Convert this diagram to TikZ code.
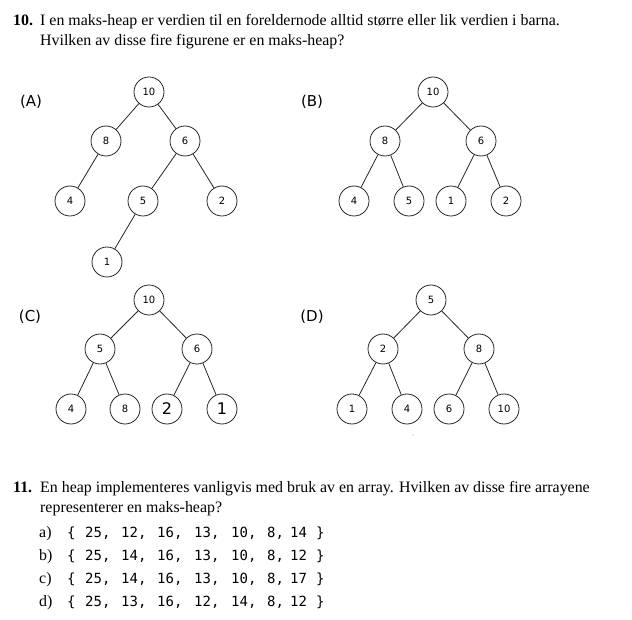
\documentclass[tikz,border=0pt]{standalone}
\usepackage{fontspec}
\setmainfont{Liberation Serif}
\newfontfamily\nodefont{DejaVu Sans}
\newfontfamily\monofont{DejaVu Sans Mono}
\begin{document}
\begin{tikzpicture}[x=1pt,y=-1pt,
  hn/.style={circle,draw=black!85,line width=0.8pt,minimum size=30pt,inner sep=0pt,font=\nodefont\fontsize{10}{10}\selectfont},
  hnbig/.style={hn,font=\nodefont\fontsize{16}{16}\selectfont},
  edge/.style={draw=black!85,line width=0.8pt},
  lbl/.style={font=\nodefont\fontsize{15}{15}\selectfont,inner sep=0pt},
  txt/.style={anchor=base west,inner sep=0pt,font=\fontsize{15.9}{18}\selectfont},
  mono/.style={anchor=base west,inner sep=0pt,font=\monofont\fontsize{14}{14}\selectfont}]
\fill[white] (0,0) rectangle (632,620);
\useasboundingbox (0,0) rectangle (632,620);

% Question 10
\node[txt] (q10n) at (13,26) {\textbf{10.}};
\node[txt] (q10a) at (40,26) {I en maks-heap er verdien til en foreldernode alltid større eller lik verdien i barna.};
\node[txt] (q10b) at (40,46) {Hvilken av disse fire figurene er en maks-heap?};

% labels
\node[lbl] (LA) at (31,102) {(A)};
\node[lbl] (LB) at (312,102) {(B)};
\node[lbl] (LC) at (30,317) {(C)};
\node[lbl] (LD) at (312,317) {(D)};

% Tree A
\node[hn] (A10) at (149,92) {10};
\node[hn] (A8) at (106,141) {8};
\node[hn] (A6) at (185,141) {6};
\node[hn] (A4) at (70,201) {4};
\node[hn] (A5) at (143,201) {5};
\node[hn] (A2) at (222,201) {2};
\node[hn] (A1) at (107,262) {1};
\draw[edge] (A10) -- (A8);
\draw[edge] (A10) -- (A6);
\draw[edge] (A8) -- (A4);
\draw[edge] (A6) -- (A5);
\draw[edge] (A6) -- (A2);
\draw[edge] (A5) -- (A1);

% Tree B
\node[hn] (B10) at (433,92) {10};
\node[hn] (B8) at (385,141) {8};
\node[hn] (B6) at (481,141) {6};
\node[hn] (B4) at (354,201) {4};
\node[hn] (B5) at (409,201) {5};
\node[hn] (B1) at (451,201) {1};
\node[hn] (B2) at (506,201) {2};
\draw[edge] (B10) -- (B8);
\draw[edge] (B10) -- (B6);
\draw[edge] (B8) -- (B4);
\draw[edge] (B8) -- (B5);
\draw[edge] (B6) -- (B1);
\draw[edge] (B6) -- (B2);

% Tree C
\node[hn] (C10) at (149,300) {10};
\node[hn] (C5) at (100,349) {5};
\node[hn] (C6) at (197,349) {6};
\node[hn] (C4) at (71,409) {4};
\node[hn] (C8) at (125,409) {8};
\node[hnbig] (C2) at (167,409) {2};
\node[hnbig] (C1) at (222,409) {1};
\draw[edge] (C10) -- (C5);
\draw[edge] (C10) -- (C6);
\draw[edge] (C5) -- (C4);
\draw[edge] (C5) -- (C8);
\draw[edge] (C6) -- (C2);
\draw[edge] (C6) -- (C1);

% Tree D
\node[hn] (D5) at (431,300) {5};
\node[hn] (D2) at (383,349) {2};
\node[hn] (D8) at (479,349) {8};
\node[hn] (D1) at (352,409) {1};
\node[hn] (D4) at (407,409) {4};
\node[hn] (D6) at (449,409) {6};
\node[hn] (D10) at (504,409) {10};
\draw[edge] (D5) -- (D2);
\draw[edge] (D5) -- (D8);
\draw[edge] (D2) -- (D1);
\draw[edge] (D2) -- (D4);
\draw[edge] (D8) -- (D6);
\draw[edge] (D8) -- (D10);
\fill[black!35] (413,435) circle (0.6);

% Question 11
\node[txt] (q11n) at (13,492) {\textbf{11.}};
\node[txt] (q11a) at (40,492) {En heap implementeres vanligvis med bruk av en array. Hvilken av disse fire arrayene};
\node[txt] (q11b) at (40,512) {representerer en maks-heap?};

\foreach \lab/\yy/\va/\vb/\vc/\vd/\ve/\vf/\vg in {
  a/537/25/12/16/13/10/8/14,
  b/560/25/14/16/13/10/8/12,
  c/583/25/14/16/13/10/8/17,
  d/606/25/13/16/12/14/8/12}{
  \node[txt] (opt\lab) at (39,\yy) {\lab)};
  \node[mono] (ob\lab) at (67,\yy) {\{};
  \node[mono] (na\lab) at (85,\yy) {\va,};
  \node[mono] (nb\lab) at (121,\yy) {\vb,};
  \node[mono] (nc\lab) at (157,\yy) {\vc,};
  \node[mono] (nd\lab) at (194,\yy) {\vd,};
  \node[mono] (ne\lab) at (231,\yy) {\ve,};
  \node[mono] (nf\lab) at (267,\yy) {\vf,};
  \node[mono] (ng\lab) at (290,\yy) {\vg};
  \node[mono] (cb\lab) at (316,\yy) {\}};
}
\end{tikzpicture}
\end{document}
